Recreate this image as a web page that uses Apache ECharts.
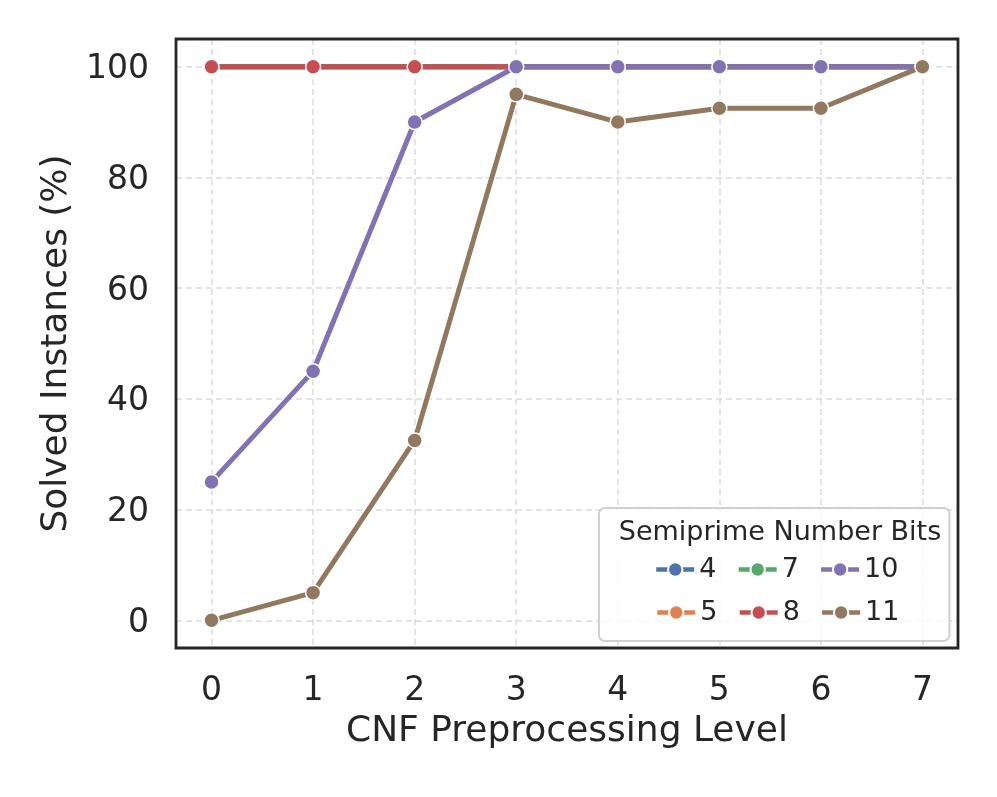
<!DOCTYPE html>
<html>
<head>
<meta charset="utf-8">
<script src="https://cdn.jsdelivr.net/npm/echarts@6/dist/echarts.min.js"></script>
<style>html,body{margin:0;padding:0;background:#fff;}#c{width:997px;height:797px;}</style>
</head>
<body>
<div id="c"></div>
<script>
const levels = [0, 1, 2, 3, 4, 5, 6, 7];
const seriesNames = ['4', '5', '7', '8', '10', '11'];
const bits4 = [100, 100, 100, 100, 100, 100, 100, 100];
const bits5 = [100, 100, 100, 100, 100, 100, 100, 100];
const bits7 = [100, 100, 100, 100, 100, 100, 100, 100];
const bits8 = [100, 100, 100, 100, 100, 100, 100, 100];
const bits10 = [25, 45, 90, 100, 100, 100, 100, 100];
const bits11 = [0, 5, 32.5, 95, 90, 92.5, 92.5, 100];
const yTicks = [0, 20, 40, 60, 80, 100];
const xTicks = levels;
const legendRow1 = ['4', '7', '10'];
const legendRow2 = ['5', '8', '11'];

const colors = ['#4c72b0', '#dd8452', '#55a868', '#c44e52', '#8172b3', '#937860'];
const values = [bits4, bits5, bits7, bits8, bits10, bits11];
const FONT = 'DejaVu Sans';
const TXT = '#262626';

const G = { left: 176, top: 39, right: 39, bottom: 149 };

const series = seriesNames.map((n, i) => ({
  name: n,
  type: 'line',
  data: levels.map((x, j) => [x, values[i][j]]),
  symbol: 'circle',
  symbolSize: 15,
  showAllSymbol: true,
  lineStyle: { width: 5, color: colors[i] },
  itemStyle: { color: colors[i], borderColor: '#ffffff', borderWidth: 1.5 },
  emphasis: { disabled: true },
  z: 2 + i
}));

const legendCommon = {
  orient: 'horizontal',
  itemGap: 20,
  itemWidth: 38, itemHeight: 18,
  lineStyle: { width: 4.5 },
  textStyle: { fontFamily: FONT, fontSize: 27, color: TXT, lineHeight: 18 },
  selectedMode: false
};

const chart = echarts.init(document.getElementById('c'));
chart.setOption({
  animation: false,
  color: colors,
  textStyle: { fontFamily: FONT, color: TXT },
  grid: { left: G.left, top: G.top, right: G.right, bottom: G.bottom },
  graphic: [{
    type: 'rect', z: 100, silent: true,
    shape: { x: G.left, y: G.top, width: 997 - G.left - G.right, height: 797 - G.top - G.bottom },
    style: { fill: 'none', stroke: '#262626', lineWidth: 2.8 }
  }],
  title: {
    text: 'Semiprime Number Bits',
    left: 775, top: 514, textAlign: 'center',
    textStyle: { fontFamily: FONT, fontSize: 27, fontWeight: 'normal', color: TXT }
  },
  legend: [
    Object.assign({}, legendCommon, {
      data: legendRow1,
      left: 599, top: 508,
      padding: [48, 51, 58, 55],
      backgroundColor: 'rgba(255,255,255,0.85)',
      borderColor: '#d0d0d0', borderWidth: 2, borderRadius: 6
    }),
    Object.assign({}, legendCommon, {
      data: legendRow2,
      left: 655, top: 599,
      padding: 0
    })
  ],
  xAxis: {
    type: 'value',
    min: -0.35, max: 7.35, splitNumber: 7,
    name: 'CNF Preprocessing Level',
    nameLocation: 'middle', nameGap: 66,
    nameTextStyle: { fontFamily: FONT, fontSize: 36, color: TXT },
    axisLine: { show: false }, axisTick: { show: false },
    axisLabel: {
      fontFamily: FONT, fontSize: 33, color: TXT, margin: 27,
      formatter: v => xTicks.includes(v) ? String(v) : ''
    },
    splitLine: { show: true, lineStyle: { color: '#dcdcdc', width: 1.5, type: [6, 4] } }
  },
  yAxis: {
    type: 'value',
    min: -5, max: 105, splitNumber: 5,
    name: 'Solved Instances (%)',
    nameLocation: 'middle', nameGap: 101,
    nameTextStyle: { fontFamily: FONT, fontSize: 36, color: TXT },
    axisLine: { show: false }, axisTick: { show: false },
    axisLabel: {
      fontFamily: FONT, fontSize: 33, color: TXT, margin: 27,
      verticalAlign: 'middle', lineHeight: 42,
      formatter: v => yTicks.includes(v) ? '{a|' + v + '}' : '',
      rich: { a: { fontFamily: FONT, fontSize: 33, color: TXT, padding: [6, 0, 0, 0] } }
    },
    splitLine: { show: true, lineStyle: { color: '#dcdcdc', width: 1.5, type: [6, 4] } }
  },
  series: series
});
</script>
</body>
</html>
